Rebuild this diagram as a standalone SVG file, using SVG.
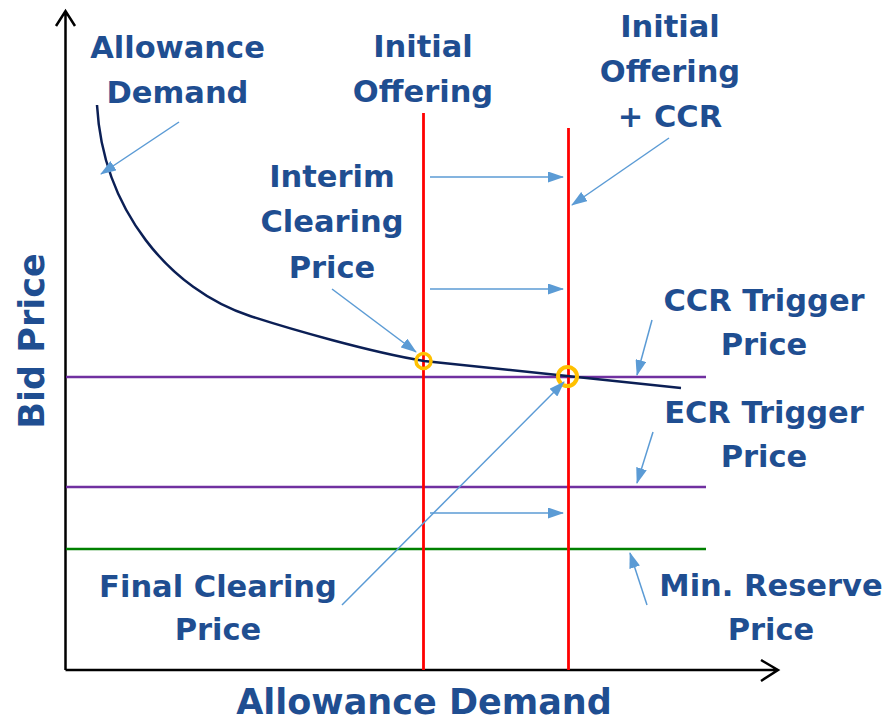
<svg xmlns="http://www.w3.org/2000/svg" width="888" height="722" viewBox="0 0 888 722">
<defs>
<style>
.lbl{font-family:"DejaVu Sans","Liberation Sans",sans-serif;font-weight:bold;font-size:30.5px;fill:#1F4E91;text-anchor:middle}
.ax{font-size:35px}
.axis{stroke:#000;stroke-width:2.5;fill:none}
.red{stroke:#FF0000;stroke-width:2.8}
.pur{stroke:#7030A0;stroke-width:2.5}
.grn{stroke:#008000;stroke-width:2.5}
.call{stroke:#5B9BD5;stroke-width:1.5;fill:none;marker-end:url(#ah)}
.ring{fill:none;stroke:#FFC000}
</style>
<marker id="ah" markerUnits="userSpaceOnUse" markerWidth="16" markerHeight="11" refX="15" refY="5.5" orient="auto">
<path d="M0,0 L16,5.5 L0,11 z" fill="#5B9BD5"/>
</marker>
</defs>
<rect width="888" height="722" fill="#fff"/>
<g id="axes">
<path class="axis" d="M65.5,670 V11 M56,26 L65.5,11 L75,26"/>
<path class="axis" d="M65.5,670 H778 M761,660 L778,670 L761,681"/>
</g>
<g id="lines">
<line class="pur" x1="66" y1="377" x2="706" y2="377"/>
<line class="pur" x1="66" y1="487" x2="706" y2="487"/>
<line class="grn" x1="66" y1="549" x2="706" y2="549"/>
<line class="red" x1="423.5" y1="113" x2="423.5" y2="670"/>
<line class="red" x1="568.5" y1="128" x2="568.5" y2="670"/>
</g>
<g id="demand-curve">
<path d="M97,105 C103,210 170,290 250,316 C290,329 370,352 424,361 L681,388" fill="none" stroke="#0B1F55" stroke-width="2.5"/>
</g>
<g id="interim-point"><circle class="ring" cx="423.5" cy="361" r="7.5" stroke-width="3.5"/></g>
<g id="final-point"><circle class="ring" cx="567.5" cy="376.5" r="9.5" stroke-width="4"/></g>
<g id="connectors">
<line class="call" x1="179" y1="122" x2="101" y2="174"/>
<line class="call" x1="430" y1="177" x2="563" y2="177"/>
<line class="call" x1="430" y1="289" x2="563" y2="289"/>
<line class="call" x1="430" y1="513" x2="563" y2="513"/>
<line class="call" x1="669" y1="138" x2="572" y2="205"/>
<line class="call" x1="332" y1="289" x2="416" y2="352"/>
<line class="call" x1="342" y1="605" x2="564" y2="382"/>
<line class="call" x1="652" y1="320" x2="637" y2="375"/>
<line class="call" x1="653" y1="432" x2="637" y2="483"/>
<line class="call" x1="647" y1="605" x2="630" y2="553"/>
</g>
<g id="label-allowance-demand"><text class="lbl" x="177.5" y="57.5">Allowance</text><text class="lbl" x="177.5" y="102.5">Demand</text></g>
<g id="label-initial-offering"><text class="lbl" x="423" y="57">Initial</text><text class="lbl" x="423" y="102">Offering</text></g>
<g id="label-initial-offering-ccr"><text class="lbl" x="670" y="37">Initial</text><text class="lbl" x="670" y="82">Offering</text><text class="lbl" x="670" y="127">+ CCR</text></g>
<g id="label-interim"><text class="lbl" x="332" y="187">Interim</text><text class="lbl" x="332" y="232">Clearing</text><text class="lbl" x="332" y="278">Price</text></g>
<g id="label-ccr-trigger"><text class="lbl" x="764" y="311">CCR Trigger</text><text class="lbl" x="764" y="355">Price</text></g>
<g id="label-ecr-trigger"><text class="lbl" x="764" y="423">ECR Trigger</text><text class="lbl" x="764" y="467">Price</text></g>
<g id="label-final"><text class="lbl" x="218" y="597">Final Clearing</text><text class="lbl" x="218" y="640">Price</text></g>
<g id="label-min-reserve"><text class="lbl" x="771" y="596">Min. Reserve</text><text class="lbl" x="771" y="640">Price</text></g>
<g id="label-x-axis"><text class="lbl ax" x="424" y="714">Allowance Demand</text></g>
<g id="label-y-axis"><text class="lbl ax" transform="translate(44,341) rotate(-90)">Bid Price</text></g>
</svg>
